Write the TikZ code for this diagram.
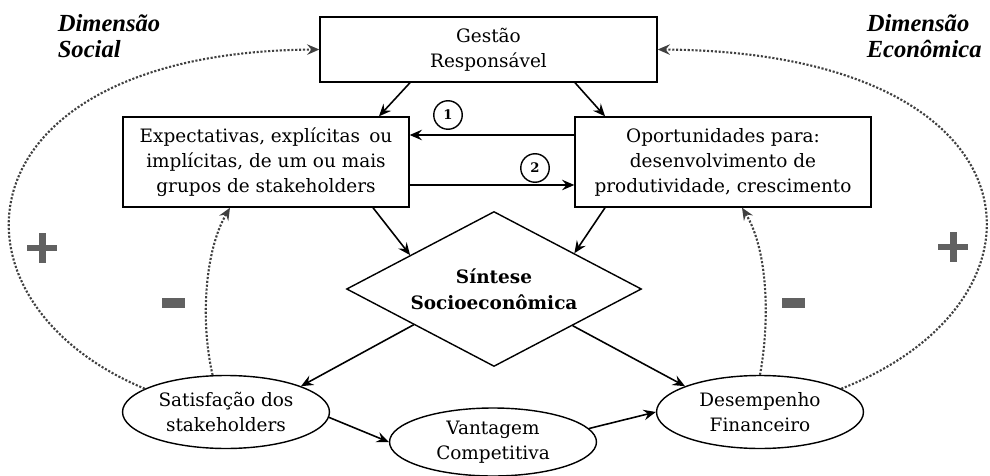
\documentclass[tikz,border=0pt]{standalone}
\usepackage{fontspec}
\setmainfont{DejaVu Serif}
\newfontfamily\dimfont{Liberation Serif}
\usetikzlibrary{shapes.geometric,arrows.meta}
\definecolor{signgray}{gray}{0.38}
\definecolor{dotgray}{gray}{0.25}
\tikzset{box/.style={
    draw, thick, rectangle, align=center, inner sep=2pt,
    font=\fontsize{10.5}{14.2}\selectfont
  },
  oval/.style={
    draw, thick, ellipse, align=center, inner sep=0pt,
    minimum width=4.14cm, minimum height=1.46cm,
    font=\fontsize{10.5}{14.2}\selectfont
  },
  numbered/.style={
    draw, thick, circle, inner sep=0pt, minimum size=0.57cm,
    font=\bfseries\fontsize{7.5}{8}\selectfont
  },
  dimension/.style={
    anchor=north west, align=left, inner sep=0pt,
    font=\dimfont\bfseries\itshape\fontsize{14}{14.5}\selectfont
  },
  feedback/.style={densely dotted, line width=1.2pt, dotgray},
  plus sign/.pic={
    \fill[signgray] (-0.3cm,-0.07cm) rectangle (0.3cm,0.07cm);
    \fill[signgray] (-0.07cm,-0.3cm) rectangle (0.07cm,0.3cm);
  },
  minus sign/.pic={
    \fill[signgray] (-0.23cm,-0.1cm) rectangle (0.23cm,0.1cm);
  }
}
\begin{document}
\begin{tikzpicture}[x=0.02cm,y=-0.02cm,line width=0.9pt,
    >={Stealth[length=7pt,width=6pt,inset=2.5pt]}]
    \useasboundingbox (0,0) rectangle (990,476);

    \node[box, minimum width=6.74cm, minimum height=1.3cm] (gestao) at (488.5,49.5) {Gestão\\Responsável};
    \node[box, minimum width=5.72cm, minimum height=1.8cm] (expect) at (266,162) {Expectativas, explícitas\enspace ou\\implícitas, de um ou mais\\grupos de stakeholders};
    \node[box, minimum width=5.92cm, minimum height=1.8cm] (oport) at (723,162) {Oportunidades para:\\desenvolvimento de\\produtividade, crescimento};
    \node[draw, thick, diamond, aspect=1.9, inner sep=0pt, minimum width=5.9cm, minimum height=3.1cm, align=center,
        font=\bfseries\fontsize{10.5}{15}\selectfont] (sintese) at (494,289) {Síntese\\Socioeconômica};
    \node[oval] (satisf) at (226,412) {Satisfação dos\\stakeholders};
    \node[oval, minimum height=1.36cm] (vantagem) at (493,442) {Vantagem\\Competitiva};
    \node[oval] (desemp) at (760,412) {Desempenho\\Financeiro};

    \node[dimension] (social) at (57,14) {Dimensão\\Social};
    \node[dimension] (economica) at (866,14) {Dimensão\\Econômica};

    \node[numbered] (um) at (448,115) {1};
    \node[numbered] (dois) at (535,168) {2};

    \draw[->] ([xshift=-1.57cm]gestao.south) -- ([xshift=2.26cm]expect.north);
    \draw[->] ([xshift=1.73cm]gestao.south) -- ([xshift=-2.36cm]oport.north);
    \draw[->] ([yshift=0.54cm]oport.west) -- ([yshift=0.54cm]expect.east);
    \draw[->] ([yshift=-0.46cm]expect.east) -- ([yshift=-0.46cm]oport.west);
    \draw[->] ([xshift=2.14cm]expect.south) -- (sintese.158);
    \draw[->] ([xshift=-2.36cm]oport.south) -- (sintese.24);
    \draw[->] (sintese.204) -- (satisf.19);
    \draw[->] (sintese.-25) -- (desemp.161);
    \draw[->] (satisf.-3) -- (vantagem.west);
    \draw[->] (vantagem.8) -- (desemp.west);

    \draw[feedback,->] (satisf.164) .. controls (-68,300) and (-45,52) .. (gestao.west);
    \draw[feedback,->] (desemp.16) .. controls (1068,300) and (1045,52) .. (gestao.east);
    \draw[feedback,->] (satisf.110) .. controls (200,320) and (205,250) .. ([xshift=-0.72cm]expect.south);
    \draw[feedback,->] (desemp.north) .. controls (770,320) and (768,250) .. ([xshift=0.38cm]oport.south);

    \pic at (42,248) {plus sign};
    \pic at (953,247) {plus sign};
    \pic at (173,303) {minus sign};
    \pic at (793,303) {minus sign};
\end{tikzpicture}
\end{document}
